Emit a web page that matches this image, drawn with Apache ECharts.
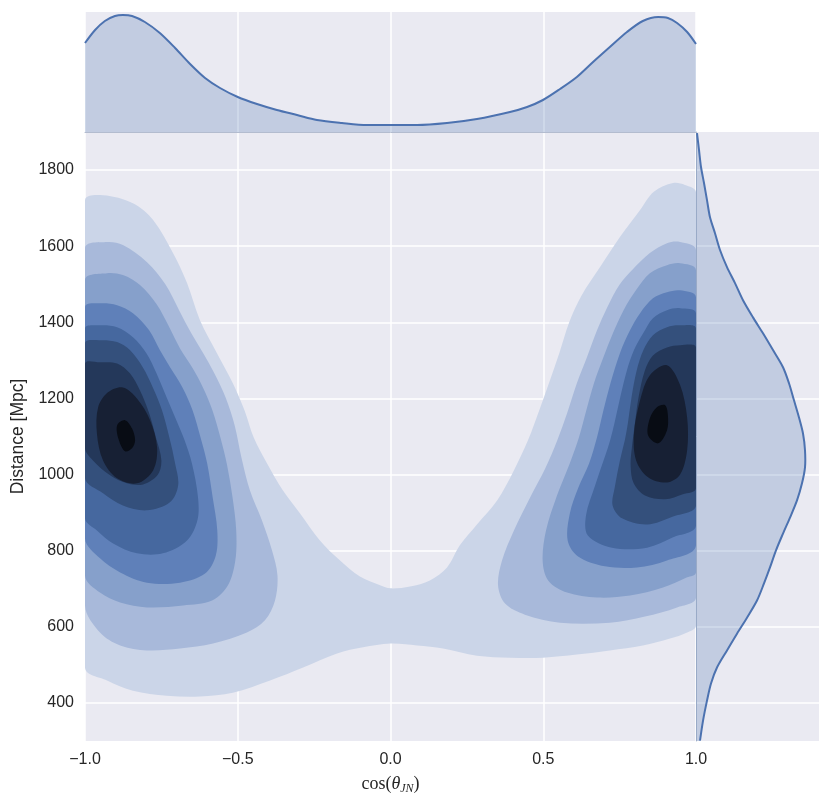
<!DOCTYPE html>
<html><head><meta charset="utf-8">
<script src="https://cdn.jsdelivr.net/npm/echarts@6/dist/echarts.min.js"></script>
<style>html,body{margin:0;padding:0;background:#fff}#c{width:830px;height:808px}</style>
</head><body><div id="c"></div>
<script>
// ---------- data ----------
const xTickLabels = ['−1.0', '−0.5', '0.0', '0.5', '1.0'];
const yTickValues = [400, 600, 800, 1000, 1200, 1400, 1600, 1800];

// top marginal KDE of cos(theta_JN) (arbitrary density units)
const topX = [-1.0, -0.967, -0.935, -0.902, -0.876, -0.846, -0.804, -0.755, -0.705, -0.656, -0.607, -0.558, -0.5, -0.437, -0.372, -0.306, -0.241, -0.159, -0.077, 0.0, 0.087, 0.185, 0.283, 0.391, 0.447, 0.499, 0.555, 0.61, 0.663, 0.718, 0.774, 0.826, 0.876, 0.908, 0.938, 0.971, 1.0];
const topDensity = [89, 102, 111, 116, 117, 116, 110, 99, 84, 68, 54, 44, 35, 28, 22, 17, 12, 9, 7, 7, 7, 9, 13, 20, 25, 32, 43, 55, 70, 85, 100, 111, 115, 114, 109, 100, 88];

// right marginal KDE of distance (arbitrary density units)
const rightY = [1897, 1853, 1808, 1766, 1721, 1676, 1634, 1590, 1545, 1503, 1458, 1413, 1371, 1327, 1282, 1240, 1195, 1150, 1108, 1064, 1019, 977, 932, 887, 845, 801, 756, 714, 669, 624, 582, 538, 493, 451, 406, 353, 301];
const rightDensity = [1, 3, 5, 8, 11, 14, 19, 24, 31, 39, 47, 57, 67, 77, 87, 93, 98, 103, 107, 109, 109, 106, 101, 94, 87, 80, 74, 68, 61, 51, 41, 31, 21, 15, 11, 7, 4];

// filled KDE contour regions, [cos(theta), distance]
const level1 = [[-1.0,1721],[-0.941,1734],[-0.843,1713],[-0.777,1669],[-0.712,1582],[-0.666,1503],[-0.624,1406],[-0.568,1319],[-0.516,1240],[-0.478,1169],[-0.448,1098],[-0.404,1029],[-0.352,958],[-0.296,898],[-0.231,827],[-0.165,774],[-0.100,732],[-0.034,709],[0.0,701],[0.064,706],[0.129,722],[0.185,756],[0.227,814],[0.283,869],[0.349,932],[0.401,1006],[0.450,1090],[0.487,1169],[0.522,1248],[0.553,1320],[0.585,1400],[0.625,1470],[0.686,1545],[0.751,1624],[0.817,1695],[0.862,1743],[0.925,1766],[0.964,1761],[1.0,1742],[1.0,603],[0.971,585],[0.915,569],[0.826,551],[0.718,538],[0.610,527],[0.499,519],[0.391,519],[0.283,524],[0.172,543],[0.087,551],[0.0,556],[-0.090,546],[-0.175,530],[-0.286,493],[-0.394,459],[-0.516,427],[-0.624,417],[-0.732,419],[-0.843,432],[-0.928,459],[-1.0,493]];
const level2Left = [[-1.0,1595],[-0.928,1611],[-0.876,1603],[-0.797,1558],[-0.737,1500],[-0.692,1432],[-0.652,1371],[-0.614,1320],[-0.578,1268],[-0.540,1203],[-0.510,1129],[-0.488,1045],[-0.460,958],[-0.421,880],[-0.388,801],[-0.370,735],[-0.378,669],[-0.411,617],[-0.470,585],[-0.581,556],[-0.689,543],[-0.797,538],[-0.885,551],[-0.951,585],[-1.0,656]];
const level2Right = [[1.0,1590],[0.948,1611],[0.905,1608],[0.849,1582],[0.794,1540],[0.749,1498],[0.710,1440],[0.676,1379],[0.643,1308],[0.610,1240],[0.578,1161],[0.546,1090],[0.506,1015],[0.457,940],[0.404,853],[0.365,774],[0.352,709],[0.375,661],[0.440,632],[0.555,611],[0.718,611],[0.833,627],[0.938,651],[1.0,677]];
const level3Left = [[-1.0,1511],[-0.928,1529],[-0.876,1524],[-0.820,1498],[-0.766,1448],[-0.724,1387],[-0.688,1330],[-0.648,1280],[-0.614,1229],[-0.583,1169],[-0.557,1098],[-0.535,1025],[-0.517,940],[-0.505,853],[-0.508,774],[-0.532,709],[-0.584,669],[-0.679,656],[-0.797,651],[-0.885,664],[-0.951,690],[-1.0,735]];
const level3Right = [[1.0,1537],[0.948,1555],[0.905,1550],[0.849,1529],[0.805,1486],[0.763,1432],[0.728,1371],[0.696,1306],[0.666,1240],[0.641,1169],[0.617,1098],[0.587,1030],[0.545,945],[0.509,853],[0.498,774],[0.516,722],[0.578,690],[0.676,677],[0.784,682],[0.892,703],[0.971,730],[1.0,743]];
const level4Left = [[-1.0,1440],[-0.951,1450],[-0.895,1445],[-0.843,1424],[-0.790,1379],[-0.755,1327],[-0.720,1280],[-0.681,1229],[-0.648,1169],[-0.622,1098],[-0.600,1029],[-0.582,940],[-0.567,853],[-0.572,787],[-0.607,740],[-0.689,716],[-0.797,716],[-0.885,743],[-0.951,780],[-1.0,832]];
const level4Right = [[1.0,1466],[0.948,1484],[0.905,1479],[0.859,1463],[0.817,1424],[0.784,1379],[0.751,1319],[0.720,1240],[0.697,1169],[0.676,1098],[0.650,1029],[0.615,966],[0.587,898],[0.580,827],[0.614,785],[0.702,759],[0.807,756],[0.905,774],[1.0,814]];
const level5Left = [[-1.0,1384],[-0.951,1392],[-0.895,1387],[-0.843,1361],[-0.799,1319],[-0.766,1266],[-0.733,1203],[-0.701,1143],[-0.674,1090],[-0.650,1029],[-0.630,940],[-0.632,880],[-0.666,827],[-0.745,793],[-0.830,793],[-0.908,819],[-0.961,853],[-1.0,885]];
const level5Right = [[1.0,1424],[0.948,1437],[0.905,1432],[0.859,1411],[0.827,1371],[0.797,1327],[0.774,1274],[0.752,1203],[0.733,1135],[0.719,1090],[0.703,1050],[0.670,972],[0.640,893],[0.646,840],[0.725,808],[0.840,808],[0.925,835],[1.0,866]];
const level6Left = [[-1.0,1345],[-0.951,1353],[-0.895,1348],[-0.853,1327],[-0.811,1282],[-0.778,1229],[-0.748,1169],[-0.724,1098],[-0.705,1029],[-0.695,972],[-0.722,927],[-0.797,906],[-0.876,919],[-0.941,951],[-1.0,990]];
const level6Right = [[1.0,1384],[0.948,1392],[0.905,1387],[0.859,1366],[0.828,1327],[0.806,1274],[0.789,1203],[0.777,1135],[0.767,1090],[0.751,1037],[0.734,966],[0.727,919],[0.758,885],[0.840,869],[0.925,890],[1.0,919]];
const level7Left = [[-1.0,1292],[-0.951,1295],[-0.895,1292],[-0.853,1266],[-0.820,1221],[-0.790,1161],[-0.768,1098],[-0.750,1037],[-0.763,998],[-0.810,974],[-0.863,977],[-0.918,998],[-0.974,1037],[-1.0,1069]];
const level7Right = [[1.0,1334],[0.948,1340],[0.905,1334],[0.859,1313],[0.833,1274],[0.812,1203],[0.800,1135],[0.791,1077],[0.786,1024],[0.796,977],[0.833,945],[0.899,935],[0.957,948],[1.0,964]];
const level8Left = [[-0.925,1216],[-0.876,1229],[-0.830,1200],[-0.787,1143],[-0.764,1071],[-0.777,1011],[-0.830,977],[-0.895,990],[-0.941,1037],[-0.961,1108],[-0.957,1177]];
const level8Right = [[0.905,1287],[0.849,1261],[0.817,1195],[0.797,1108],[0.804,1037],[0.843,993],[0.905,979],[0.948,1000],[0.971,1064],[0.971,1150],[0.948,1235]];
const level9Left = [[-0.895,1129],[-0.869,1143],[-0.846,1121],[-0.836,1090],[-0.846,1069],[-0.869,1061],[-0.889,1090]];
const level9Right = [[0.849,1148],[0.872,1177],[0.899,1182],[0.908,1156],[0.905,1116],[0.876,1082],[0.843,1103]];

const contourLevels = [
  [level1],
  [level2Left, level2Right],
  [level3Left, level3Right],
  [level4Left, level4Right],
  [level5Left, level5Right],
  [level6Left, level6Right],
  [level7Left, level7Right],
  [level8Left, level8Right],
  [level9Left, level9Right]
];
const levelColors = ['#cbd5e8', '#a8b9da', '#86a0cb', '#5f80b9', '#46689f', '#34507c', '#24385a', '#172034', '#080c14'];

// ---------- chart ----------
const FONT = '"Liberation Sans", Arial, sans-serif';
const SERIF = '"Liberation Serif", "DejaVu Serif", serif';
const TXT = '#262626';
const BG = '#eaeaf2';
const EDGE = '#b3bccf';
const LINE = '#4c72b0';

const series = [];
contourLevels.forEach((polys, li) => {
  polys.forEach((pts) => {
    series.push({
      type: 'custom', coordinateSystem: 'cartesian2d', xAxisIndex: 0, yAxisIndex: 0,
      clip: true, silent: true, z: 2 + li,
      data: [pts[0]],
      renderItem: function (params, api) {
        return {
          type: 'polygon',
          shape: { points: pts.map(p => api.coord(p)), smooth: 0.33 },
          style: { fill: levelColors[li], stroke: null }
        };
      }
    });
  });
});

series.push({
  type: 'line', xAxisIndex: 1, yAxisIndex: 1, smooth: 0.3, symbol: 'none', silent: true,
  data: topX.map((x, i) => [x, topDensity[i]]),
  lineStyle: { color: LINE, width: 2 },
  areaStyle: { color: LINE, opacity: 0.25 }
});

series.push({
  type: 'custom', coordinateSystem: 'cartesian2d', xAxisIndex: 2, yAxisIndex: 2,
  clip: true, silent: true, z: 3,
  data: [[rightDensity[0], rightY[0]]],
  renderItem: function (params, api) {
    const curve = rightY.map((y, i) => api.coord([rightDensity[i], y]));
    const fillPts = [api.coord([0, rightY[0]])].concat(curve, [api.coord([0, rightY[rightY.length - 1]])]);
    return {
      type: 'group',
      children: [
        { type: 'polygon', shape: { points: fillPts, smooth: 0.3 }, style: { fill: 'rgba(76,114,176,0.25)' } },
        { type: 'polyline', shape: { points: curve, smooth: 0.3 }, style: { stroke: LINE, lineWidth: 2, fill: null } }
      ]
    };
  }
});

const splitCols = ['rgba(0,0,0,0)', '#ffffff'];

const option = {
  animation: false,
  backgroundColor: '#ffffff',
  grid: [
    { left: 85, top: 132, width: 611, height: 609, show: true, backgroundColor: BG, borderWidth: 0 },
    { left: 85, top: 12, width: 611, height: 120, show: true, backgroundColor: BG, borderWidth: 0 },
    { left: 696, top: 132, width: 123, height: 609, show: true, backgroundColor: BG, borderWidth: 0 }
  ],
  xAxis: [
    {
      gridIndex: 0, type: 'value', min: -1, max: 1, interval: 0.5,
      axisLine: { show: false }, axisTick: { show: false },
      axisLabel: { fontSize: 16, color: TXT, fontFamily: FONT, margin: 11,
        formatter: v => xTickLabels[Math.round((v + 1) / 0.5)] },
      splitLine: { show: true, lineStyle: { color: '#ffffff', width: 1.5 } },
      name: '{r|cos(}{i|θ}{s|JN}{r|)}', nameLocation: 'middle', nameGap: 32,
      nameTextStyle: { rich: {
        r: { fontFamily: SERIF, fontSize: 18, color: TXT },
        i: { fontFamily: SERIF, fontStyle: 'italic', fontSize: 18, color: TXT },
        s: { fontFamily: SERIF, fontStyle: 'italic', fontSize: 12, color: TXT, padding: [10, 0, 0, 0] }
      } }
    },
    {
      gridIndex: 1, type: 'value', min: -1, max: 1, interval: 0.5,
      axisLine: { show: true, lineStyle: { color: EDGE, width: 1 } }, axisTick: { show: false },
      axisLabel: { show: false },
      splitLine: { show: true, lineStyle: { color: '#ffffff', width: 1.5 } }
    },
    {
      gridIndex: 2, type: 'value', min: 0, max: 123, show: false
    }
  ],
  yAxis: [
    {
      gridIndex: 0, type: 'value', min: 300, max: 1900, interval: 100,
      axisLine: { show: false }, axisTick: { show: false },
      axisLabel: { fontSize: 16, color: TXT, fontFamily: FONT, margin: 11,
        formatter: v => (yTickValues.indexOf(v) >= 0 ? String(v) : '') },
      splitLine: { show: true, lineStyle: { color: splitCols, width: 1.5 } },
      name: 'Distance [Mpc]', nameLocation: 'middle', nameGap: 58,
      nameTextStyle: { fontSize: 17.5, color: TXT, fontFamily: FONT }
    },
    {
      gridIndex: 1, type: 'value', min: 0, max: 120, show: false
    },
    {
      gridIndex: 2, type: 'value', min: 300, max: 1900, interval: 100,
      axisLine: { show: true, lineStyle: { color: EDGE, width: 1 } }, axisTick: { show: false },
      axisLabel: { show: false },
      splitLine: { show: true, lineStyle: { color: splitCols, width: 1.5 } }
    }
  ],
  series: series
};

const chart = echarts.init(document.getElementById('c'), null, { renderer: 'canvas' });
chart.setOption(option);
</script>
</body></html>
